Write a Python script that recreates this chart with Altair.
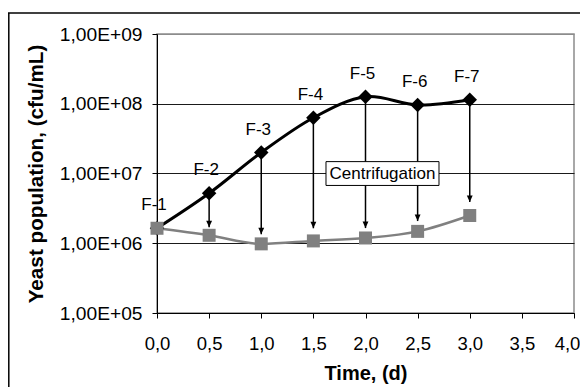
import json
import altair as alt
import pandas as pd

# ---- data ----
time = [0.0, 0.5, 1.0, 1.5, 2.0, 2.5, 3.0]
fermenter = [1.64e6, 5.2e6, 2.0e7, 6.3e7, 1.26e8, 9.6e7, 1.14e8]
centrifuged = [1.64e6, 1.3e6, 0.98e6, 1.08e6, 1.19e6, 1.48e6, 2.5e6]
arrow_end = [None, 1.69e6, 1.35e6, 1.64e6, 1.65e6, 2.08e6, 3.9e6]
point_labels = ["F-1", "F-2", "F-3", "F-4", "F-5", "F-6", "F-7"]

y_ticks = [1e5, 1e6, 1e7, 1e8, 1e9]
y_tick_labels = ["1,00E+05", "1,00E+06", "1,00E+07", "1,00E+08", "1,00E+09"]
x_ticks = [0.0, 0.5, 1.0, 1.5, 2.0, 2.5, 3.0, 3.5, 4.0]
x_tick_labels = ["0,0", "0,5", "1,0", "1,5", "2,0", "2,5", "3,0", "3,5", "4,0"]

note_text = ["Centrifugation"]
note_x = [2.163]
note_y = [1.0e7]
note_box_x = [1.621, 2.705]
note_box_y = [6.74e6, 1.48e7]

df = pd.DataFrame({"t": time, "f": fermenter, "c": centrifuged,
                   "a": arrow_end, "lab": point_labels})
arrows = df.dropna(subset=["a"])
note = pd.DataFrame({"txt": note_text, "x": note_x, "y": note_y,
                     "x1": [note_box_x[0]], "x2": [note_box_x[1]],
                     "y1": [note_box_y[0]], "y2": [note_box_y[1]]})

FONT = "Liberation Sans"

xscale = alt.Scale(domain=[0, 4], nice=False)
yscale = alt.Scale(type="log", domain=[1e5, 1e9], nice=False)

xaxis = alt.Axis(
    values=x_ticks,
    labelExpr=f"{json.dumps(x_tick_labels)}[round(datum.value*2)]",
    grid=False, domainColor="black", tickColor="black", tickSize=5,
    labelFontSize=18.5, labelColor="black", labelPadding=16, labelFlush=False,
    labelOffset={"condition": {"test": "datum.value >= 4", "value": -7}, "value": 0},
    title="Time, (d)", titleFontSize=20, titleFontWeight="bold", titleColor="black",
    titleX=208.5, titleY=66, titleBaseline="alphabetic", titleAlign="center",
)
yaxis = alt.Axis(
    values=y_ticks,
    labelExpr=f"{json.dumps(y_tick_labels)}[round(log(datum.value)/LN10)-5]",
    grid=True,
    gridColor={"condition": {"test": "datum.value >= 1e9", "value": "#8c8c8c"}, "value": "#1a1a1a"},
    gridWidth=1,
    domainColor="black", tickColor="black", tickSize=5,
    labelFontSize=19.2, labelColor="black", labelPadding=10, labelFlush=False,
    title="Yeast population, (cfu/mL)", titleFontSize=20.7, titleFontWeight="bold",
    titleColor="black", titleAngle=-90, titleX=-121, titleY=139.5,
    titleAlign="center", titleBaseline="middle",
)

base = alt.Chart(df)
one = pd.DataFrame({"k": [0]})

border_top = alt.Chart(one).mark_rule(color="black", strokeWidth=1.5).encode(
    x=alt.value(-149), x2=alt.value(431), y=alt.value(-21)
)
border_left = alt.Chart(one).mark_rule(color="black", strokeWidth=1.5).encode(
    x=alt.value(-148.2), y=alt.value(-21), y2=alt.value(420)
)

gray_line = base.mark_line(color="#808080", strokeWidth=2.5, interpolate="monotone").encode(
    x=alt.X("t:Q", scale=xscale, axis=xaxis),
    y=alt.Y("c:Q", scale=yscale, axis=yaxis),
)
black_line = base.mark_line(color="black", strokeWidth=3, interpolate="cardinal").encode(
    x=alt.X("t:Q", scale=xscale), y=alt.Y("f:Q", scale=yscale)
)
arrow_rules = alt.Chart(arrows).mark_rule(color="black", strokeWidth=1.5).encode(
    x="t:Q", y="f:Q", y2="a:Q"
)
arrow_heads = alt.Chart(arrows).mark_point(
    shape="M-0.45,-1L0.45,-1L0,0Z", filled=True, color="black", size=169, opacity=1
).encode(x="t:Q", y="a:Q")
diamonds = base.mark_point(shape="diamond", filled=True, color="black", size=210, opacity=1).encode(
    x="t:Q", y="f:Q"
)
squares = base.mark_point(shape="square", filled=True, color="#808080", size=169, opacity=1).encode(
    x="t:Q", y="c:Q"
)
labels = base.mark_text(fontSize=17, color="black", dy=-23, dx=-3).encode(
    x="t:Q", y="f:Q", text="lab:N"
)
box = alt.Chart(note).mark_rect(fill="white", stroke="black", strokeWidth=1).encode(
    x="x1:Q", x2="x2:Q", y="y1:Q", y2="y2:Q"
)
box_text = alt.Chart(note).mark_text(fontSize=17, color="black").encode(
    x="x:Q", y="y:Q", text="txt:N"
)

chart = alt.layer(
    border_top, border_left, gray_line, black_line, arrow_rules, arrow_heads,
    diamonds, squares, box, box_text, labels
).properties(
    width=417, height=279,
    autosize=alt.AutoSizeParams(type="none"),
    padding={"left": 149, "top": 26, "right": 6, "bottom": 80},
).configure(font=FONT).configure_view(stroke="#8c8c8c", strokeWidth=1.5)

chart.save("out.html", embed_options={"renderer": "svg", "actions": False})
